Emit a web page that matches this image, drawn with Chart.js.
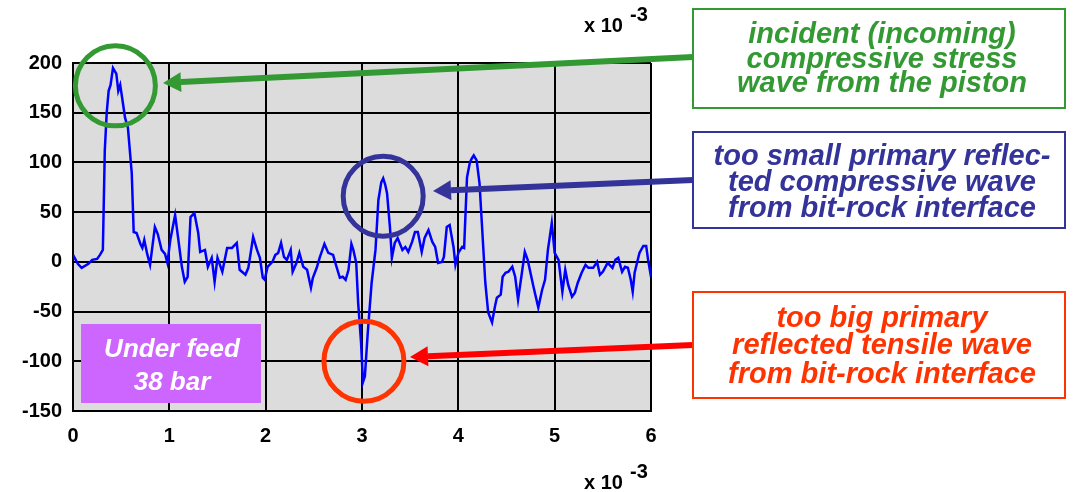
<!DOCTYPE html>
<html>
<head>
<meta charset="utf-8">
<script src="https://cdn.jsdelivr.net/npm/chart.js@4/dist/chart.umd.min.js"></script>
<style>
  body { margin: 0; background: #fff; }
  canvas { display: block; }
</style>
</head>
<body>
<canvas id="myChart" width="1076" height="492"></canvas>
<script>
// time in x 10^-3 s, stress values
let times = [
    0, 0.05, 0.09, 0.16, 0.2, 0.25, 0.28, 0.31, 0.33, 0.35, 0.37, 0.39, 0.415, 0.45, 0.47, 0.49,
    0.51, 0.54, 0.57, 0.61, 0.63, 0.66, 0.7, 0.72, 0.74, 0.77, 0.8, 0.85, 0.88, 0.92, 0.955, 0.98,
    1.01, 1.06, 1.09, 1.13, 1.16, 1.19, 1.22, 1.26, 1.3, 1.32, 1.37, 1.4, 1.44, 1.47, 1.5, 1.55,
    1.6, 1.65, 1.7, 1.73, 1.79, 1.82, 1.87, 1.91, 1.94, 1.97, 1.99, 2.02, 2.07, 2.1, 2.13, 2.16,
    2.19, 2.22, 2.26, 2.28, 2.32, 2.35, 2.39, 2.43, 2.47, 2.49, 2.53, 2.56, 2.61, 2.65, 2.7, 2.72,
    2.77, 2.8, 2.83, 2.86, 2.89, 2.91, 2.94, 2.96, 2.99, 3.01, 3.03, 3.06, 3.1, 3.14, 3.17, 3.2,
    3.22, 3.24, 3.26, 3.29, 3.31, 3.34, 3.37, 3.42, 3.45, 3.48, 3.52, 3.55, 3.58, 3.62, 3.65, 3.69,
    3.73, 3.76, 3.79, 3.83, 3.85, 3.88, 3.91, 3.95, 3.97, 4.0, 4.04, 4.06, 4.09, 4.12, 4.14, 4.16,
    4.19, 4.22, 4.25, 4.28, 4.31, 4.35, 4.38, 4.4, 4.44, 4.46, 4.49, 4.52, 4.56, 4.59, 4.62, 4.66,
    4.69, 4.72, 4.78, 4.83, 4.87, 4.9, 4.93, 4.97, 5.0, 5.04, 5.08, 5.11, 5.14, 5.18, 5.21, 5.24,
    5.28, 5.32, 5.35, 5.4, 5.44, 5.47, 5.5, 5.55, 5.6, 5.63, 5.66, 5.7, 5.73, 5.76, 5.79, 5.81,
    5.83, 5.88, 5.92, 5.95, 5.97, 6.0
];
let stress = [
    7, -2, -6, -2, 2, 3, 7, 12, 112, 150, 172, 178, 195, 189, 172, 178,
    165, 145, 135, 89, 30, 29, 18, 14, 22, 8, -3, 35, 28, 12, 8, -1,
    22, 47, 25, -5, -20, -15, 45, 49, 29, 10, 12, -5, 4, -20, 4, -10,
    14, 14, 19, -8, -13, -6, 25, 12, 4, -16, -18, -5, 0, 7, 9, 19,
    5, 2, 12, -10, -1, 9, -5, -8, -26, -16, -6, 4, 18, 9, 7, 0,
    -16, -15, -18, -8, 18, 12, -1, -41, -81, -121, -115, -71, -21, 12, 62, 80,
    84, 78, 69, 35, 4, 19, 24, 12, 15, 10, 20, 30, 30, 10, 24, 32,
    20, 15, -1, 0, 5, 35, 37, 15, -3, 9, 15, 14, 85, 100, 104, 107,
    102, 79, 29, -21, -51, -61, -45, -36, -33, -15, -11, -10, -5, -15, -38, -11,
    10, 2, -25, -46, -28, -18, 12, 39, 9, 2, -30, -8, -23, -35, -31, -21,
    -11, -3, -6, -6, 0, -13, -10, -1, -6, 2, 4, -10, -5, -6, -18, -30,
    -11, 9, 16, 16, 2, -15
];

let xTicks = [0, 1, 2, 3, 4, 5, 6];
let yTicks = [-150, -100, -50, 0, 50, 100, 150, 200];

let points = times.map((t, i) => ({ x: t, y: stress[i] }));

const tickFont = { family: 'Liberation Sans, Arial, sans-serif', size: 20, weight: 'bold' };
const noteFont = 'italic bold 29px "Liberation Sans", Arial, sans-serif';

// grey plot background
const plotBackground = {
    id: 'plotBackground',
    beforeDraw(chart) {
        const { ctx, chartArea: a } = chart;
        ctx.save();
        ctx.fillStyle = '#dcdcdc';
        ctx.fillRect(a.left, a.top, a.right - a.left, a.bottom - a.top);
        ctx.restore();
    }
};

function arrow(ctx, x1, y1, x2, y2, color, width, headLen, headHalf) {
    const ang = Math.atan2(y2 - y1, x2 - x1);
    const bx = x2 - Math.cos(ang) * headLen, by = y2 - Math.sin(ang) * headLen;
    ctx.strokeStyle = color;
    ctx.fillStyle = color;
    ctx.lineWidth = width;
    ctx.beginPath();
    ctx.moveTo(x1, y1);
    ctx.lineTo(bx, by);
    ctx.stroke();
    ctx.beginPath();
    ctx.moveTo(x2, y2);
    ctx.lineTo(bx + Math.sin(ang) * headHalf, by - Math.cos(ang) * headHalf);
    ctx.lineTo(bx - Math.sin(ang) * headHalf, by + Math.cos(ang) * headHalf);
    ctx.closePath();
    ctx.fill();
}

function noteBox(ctx, x, y, w, h, color, lines, baselines) {
    ctx.fillStyle = '#fff';
    ctx.fillRect(x, y, w, h);
    ctx.strokeStyle = color;
    ctx.lineWidth = 2;
    ctx.strokeRect(x, y, w, h);
    ctx.fillStyle = color;
    ctx.font = noteFont;
    ctx.textAlign = 'center';
    ctx.textBaseline = 'alphabetic';
    lines.forEach((s, i) => ctx.fillText(s, x + w / 2 + 3, baselines[i]));
}

function tenPower(ctx, x, y) {
    ctx.fillStyle = '#000';
    ctx.font = 'bold 20px "Liberation Sans", Arial, sans-serif';
    ctx.textAlign = 'left';
    ctx.textBaseline = 'alphabetic';
    ctx.fillText('x 10', x, y);
    ctx.fillText('-3', x + 46, y - 11);
}

const annotations = {
    id: 'annotations',
    afterDraw(chart) {
        const ctx = chart.ctx;
        const xs = chart.scales.x, ys = chart.scales.y;
        ctx.save();

        // purple label box
        ctx.fillStyle = '#cc66ff';
        ctx.fillRect(81, 324, 180, 79);
        ctx.fillStyle = '#fff';
        ctx.font = 'italic bold 26px "Liberation Sans", Arial, sans-serif';
        ctx.textAlign = 'center';
        ctx.textBaseline = 'middle';
        ctx.fillText('Under feed', 172, 350);
        ctx.fillText('38 bar', 172, 383);

        // circles around the features
        const circle = (t, v, color) => {
            ctx.strokeStyle = color;
            ctx.lineWidth = 5;
            ctx.beginPath();
            ctx.arc(xs.getPixelForValue(t), ys.getPixelForValue(v), 40, 0, Math.PI * 2);
            ctx.stroke();
        };
        circle(0.44, 177, '#339933');
        circle(3.22, 66, '#333399');
        circle(3.02, -100, '#ff3300');

        // arrows
        arrow(ctx, 693, 57, 163, 83, '#339933', 6, 18, 10);
        arrow(ctx, 693, 180, 433, 191, '#333399', 6, 18, 10);
        arrow(ctx, 693, 345, 410, 357, '#ff0000', 6, 18, 10);

        // explanation boxes
        noteBox(ctx, 693, 9, 372, 99, '#339933',
            ['incident (incoming)', 'compressive stress', 'wave from the piston'], [43, 68, 92]);
        noteBox(ctx, 693, 132, 372, 96, '#333399',
            ['too small primary reflec-', 'ted compressive wave', 'from bit-rock interface'], [165, 191, 217]);
        noteBox(ctx, 693, 292, 372, 106, '#ff3300',
            ['too big primary', 'reflected tensile wave', 'from bit-rock interface'], [327, 354, 383]);

        // axis multipliers
        tenPower(ctx, 584, 32);
        tenPower(ctx, 584, 489);

        ctx.restore();
    }
};

let data = {
    datasets: [{
        label: 'stress',
        data: points,
        borderColor: '#0000ff',
        borderWidth: 2.5,
        pointRadius: 0,
        tension: 0,
        fill: false
    }]
};

let config = {
    type: 'line',
    data: data,
    options: {
        responsive: false,
        animation: false,
        layout: { padding: { left: 0, right: 425, top: 63, bottom: 41 } },
        plugins: {
            legend: { display: false },
            tooltip: { enabled: false }
        },
        scales: {
            x: {
                type: 'linear',
                min: 0,
                max: 6,
                afterBuildTicks: (s) => { s.ticks = xTicks.map(v => ({ value: v })); },
                afterFit: (s) => { s.height = 40; },
                grid: { color: '#000', lineWidth: 2, drawTicks: false },
                border: { color: '#000', width: 2 },
                ticks: { color: '#000', font: tickFont, padding: 13, maxRotation: 0 }
            },
            y: {
                type: 'linear',
                min: -150,
                max: 200,
                afterBuildTicks: (s) => { s.ticks = yTicks.map(v => ({ value: v })); },
                afterFit: (s) => { s.width = 73; },
                grid: { color: '#000', lineWidth: 2, drawTicks: false },
                border: { color: '#000', width: 2 },
                ticks: { color: '#000', font: tickFont, padding: 11 }
            }
        }
    },
    plugins: [plotBackground, annotations]
};

var myChart = new Chart(document.getElementById('myChart').getContext('2d'), config);
</script>
</body>
</html>
